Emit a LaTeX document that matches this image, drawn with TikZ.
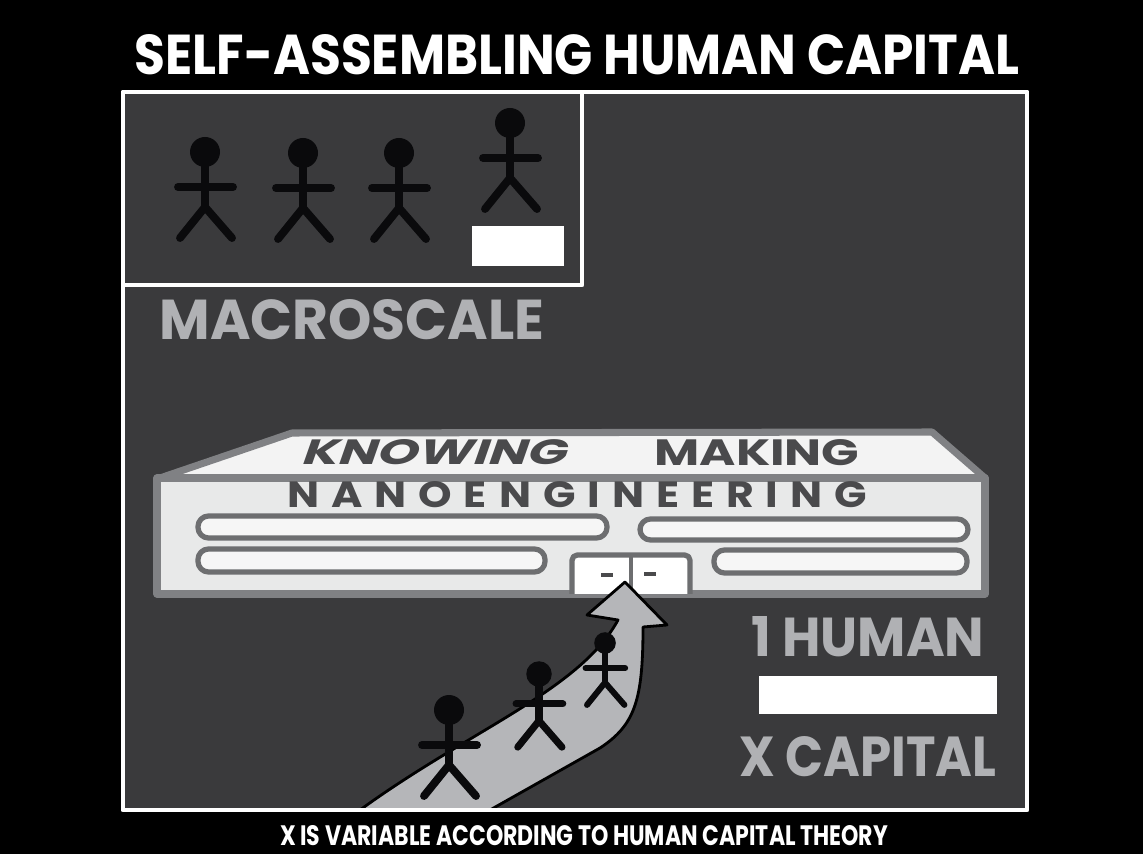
\documentclass[tikz,border=0pt]{standalone}
\usepackage{fontspec}
\setmainfont{Poppins}
\newfontfamily\spacedfont[LetterSpace=28]{Poppins}

\begin{document}
\begin{tikzpicture}[x=0.02cm,y=-0.02cm,line join=round,
	 frame line/.style={draw=white,line width=2.8pt},
	 wall/.style={draw=edgegrey,line width=4pt},
	 window/.style={draw=edgegrey!85!black,fill=glassgrey,line width=3pt,rounded corners=6},
	 title text/.style={text=white,inner sep=0pt,font=\bfseries},
	 label text/.style={text=labelgrey,inner sep=0pt,font=\bfseries},
	 roof text/.style={text=inkgrey,inner sep=0pt,font=\bfseries},
	 growth arrow/.style={fill=arrowgrey,draw=black,line width=1.6pt},
	 person/.pic={
	   \fill (0,0) circle (15);
	   \draw (0,5) -- (0,55);
	   \draw (-27,35) -- (28,35);
	   \draw (-25,86) -- (0,55) -- (27,86);
	 },
	 stick/.style={draw=figblack,fill=figblack,line width=4.5pt,line cap=round}]

	\definecolor{panelgrey}{RGB}{58,58,60}
	\definecolor{wallgrey}{RGB}{232,233,233}
	\definecolor{roofgrey}{RGB}{243,243,243}
	\definecolor{glassgrey}{RGB}{246,246,246}
	\definecolor{edgegrey}{RGB}{128,129,132}
	\definecolor{inkgrey}{RGB}{74,74,76}
	\definecolor{labelgrey}{RGB}{176,177,180}
	\definecolor{arrowgrey}{RGB}{181,182,185}
	\definecolor{figblack}{RGB}{10,10,12}

	% page and panel
	\fill[black] (0,0) rectangle (1143,854);
	\fill[panelgrey] (123,92) rectangle (1027,810);

	% macroscale: four people, one of them on a block
	\pic[stick] at (205,152) {person};
	\pic[stick] at (303,153) {person};
	\pic[stick] at (399,153) {person};
	\pic[stick] at (510,123) {person};
	\fill[white] (472,226) rectangle (564,266);

	% building
	\draw[wall,fill=roofgrey] (160,478) -- (292,433) -- (932,432) -- (985,478) -- cycle;
	\draw[wall,fill=wallgrey] (157,478) rectangle (985,594);
	\draw[window] (198,516) rectangle (607,538);
	\draw[window] (640,519) rectangle (968,540);
	\draw[window] (198,549) rectangle (545,572);
	\draw[window] (714,550) rectangle (967,573);
	\draw[window,fill=white,rounded corners=3] (572,594) -- (572,555) -- (690,555) -- (690,594);
	\draw[edgegrey!85!black,line width=2.5pt] (631,555) -- (631,594);
	\draw[inkgrey,line width=2pt] (601,575) -- (613,575);
	\draw[inkgrey,line width=2pt] (644,574) -- (656,574);

	\draw (437,452) node[roof text,xslant=0.35] (knowing) {\resizebox{5.3cm}{0.5cm}{KNOWING}};
	\draw (757,453) node[roof text] (making) {\resizebox{4.1cm}{0.52cm}{MAKING}};
	\draw (577,495) node[roof text] (nano) {\resizebox{11.6cm}{0.52cm}{\spacedfont\bfseries NANOENGINEERING}};

	% rising arrow with three climbers
	\draw[growth arrow] (360,810) .. controls (470,730) and (580,690) .. (618,620)
	  -- (587,615) -- (625,582) -- (667,625) -- (643,627)
	  .. controls (643,700) and (635,725) .. (600,748) -- (490,810) -- cycle;
	\pic[stick] at (449,710) {person};
	\pic[stick,scale=0.85,line width=4pt] at (539,674) {person};
	\pic[stick,scale=0.72,line width=3.4pt] at (605,643) {person};

	% frames
	\draw[frame line] (123,92) rectangle (1027,810);
	\draw[frame line] (123,285) -- (582,285) -- (582,92);

	% texts
	\draw (577,55) node[title text] (title) {\resizebox{17.7cm}{0.8cm}{SELF-ASSEMBLING HUMAN CAPITAL}};
	\draw (352,320) node[label text] (macro) {\resizebox{7.7cm}{0.8cm}{MACROSCALE}};
	\draw (868,637) node[label text] (human) {\resizebox{4.66cm}{0.8cm}{1 HUMAN}};
	\fill[white] (759,676) rectangle (997,714);
	\draw (868,757) node[label text] (capital) {\resizebox{5.14cm}{0.8cm}{X CAPITAL}};
	\draw (584,836) node[title text] (theory) {\resizebox{12.16cm}{0.4cm}{X IS VARIABLE ACCORDING TO HUMAN CAPITAL THEORY}};

\end{tikzpicture}
\end{document}
